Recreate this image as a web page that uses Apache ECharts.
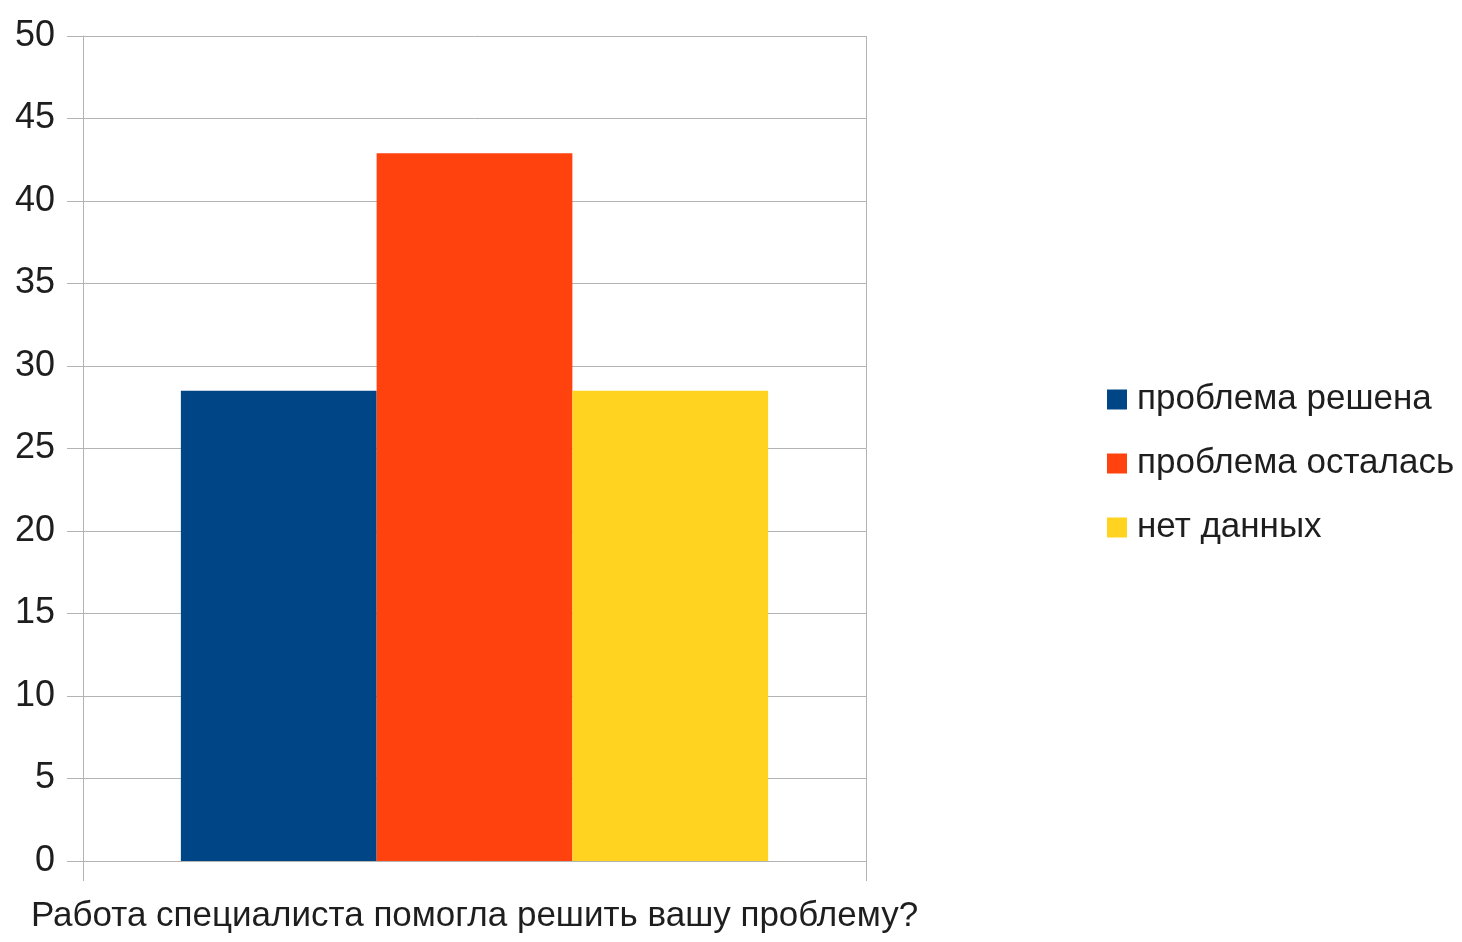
<!DOCTYPE html>
<html>
<head>
<meta charset="utf-8">
<script src="https://cdn.jsdelivr.net/npm/echarts@6/dist/echarts.min.js"></script>
<style>
  html, body { margin: 0; padding: 0; background: #fff; }
  #chart { width: 1462px; height: 942px; }
</style>
</head>
<body>
<div id="chart"></div>
<script>
var categories = ["Работа специалиста помогла решить вашу проблему?"];
var seriesNames = ["проблема решена", "проблема осталась", "нет данных"];
var solved = [28.5];
var unsolved = [42.9];
var noData = [28.5];
var colors = ["#004586", "#ff420e", "#ffd320"];

var font = "'Liberation Sans Narrow', 'Liberation Sans', Arial, sans-serif";
var gridColor = "#b3b3b3";

var chart = echarts.init(document.getElementById("chart"));

var option = {
  animation: false,
  color: colors,
  grid: { left: 83, right: 596, top: 36, bottom: 81, containLabel: false, outerBoundsMode: "none" },
  legend: {
    orient: "vertical",
    left: 1102,
    top: 377,
    itemWidth: 20,
    itemHeight: 20,
    itemGap: 29,
    icon: "rect",
    textStyle: { fontFamily: font, fontSize: 35, color: "#1e1e1e", padding: [0, 0, 0, 5] },
    data: seriesNames
  },
  xAxis: {
    type: "category",
    data: categories,
    axisLine: { lineStyle: { color: gridColor } },
    axisTick: { show: true, length: 20, lineStyle: { color: gridColor } },
    splitLine: { show: true, lineStyle: { color: gridColor } },
    axisLabel: { fontFamily: font, fontSize: 35, color: "#1e1e1e", margin: 38 }
  },
  yAxis: {
    type: "value",
    min: 0,
    max: 50,
    interval: 5,
    axisLine: { show: true, lineStyle: { color: gridColor } },
    axisTick: { show: true, length: 16, lineStyle: { color: gridColor } },
    splitLine: { lineStyle: { color: gridColor } },
    axisLabel: { fontFamily: font, fontSize: 36, color: "#1e1e1e", margin: 28 }
  },
  series: [
    { name: seriesNames[0], type: "bar", data: solved, barGap: 0, barCategoryGap: "25%" },
    { name: seriesNames[1], type: "bar", data: unsolved, barGap: 0, barCategoryGap: "25%" },
    { name: seriesNames[2], type: "bar", data: noData, barGap: 0, barCategoryGap: "25%" }
  ]
};

chart.setOption(option);
</script>
</body>
</html>
